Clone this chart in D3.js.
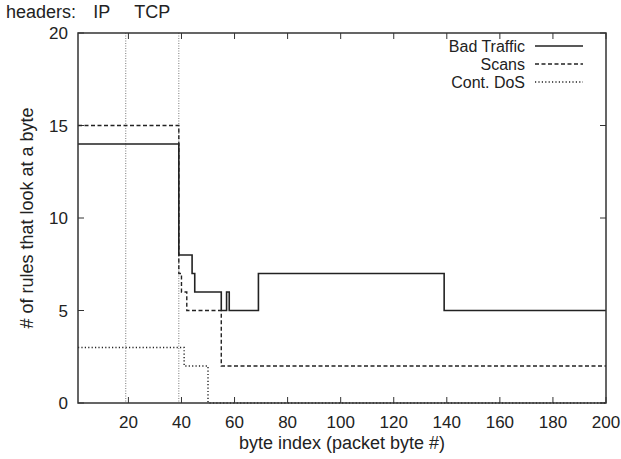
<html>
<head>
  <title></title>
  <script src="https://d3js.org/d3.v7.min.js"></script>
  <style type="text/css">
  body { margin: 0; background: #fff; }
  text {
    font-family: "Liberation Sans", Helvetica, Arial, sans-serif;
    fill: #222;
  }
  </style>
</head>
<body>
<div id="viz"></div>
<script type="text/javascript">

const W = 621, H = 459;
const margin = {left: 78, right: 15, top: 33, bottom: 56};

// step curves: value holds from each x until the next x
const badX   = [1, 39, 44, 45, 55, 57, 58, 69, 139, 200];
const badY   = [14, 8, 7, 6, 5, 6, 5, 7, 5, 5];
const scansX = [1, 39, 40, 42, 55, 200];
const scansY = [15, 7, 6, 5, 2, 2];
const dosX   = [1, 41, 50, 200];
const dosY   = [3, 2, 0, 0];

const seriesNames = ["Bad Traffic", "Scans", "Cont. DoS"];
const dashes = [null, "4,2.5", "1.2,2.2"];

const xTicks = [20, 40, 60, 80, 100, 120, 140, 160, 180, 200];
const yTicks = [0, 5, 10, 15, 20];

const headerNames = ["IP", "TCP"];
const headerEnds = [19, 39];

const svg = d3.select("#viz").append("svg")
  .attr("width", W)
  .attr("height", H);

const x = d3.scaleLinear().domain([1, 200]).range([margin.left, W - margin.right]);
const y = d3.scaleLinear().domain([0, 20]).range([H - margin.bottom, margin.top]);

const x0 = x.range()[0], x1 = x.range()[1];
const y0 = y.range()[0], y1 = y.range()[1];

// header separators
svg.selectAll(".hdr")
  .data(headerEnds)
  .enter().append("line")
  .attr("x1", d => x(d)).attr("x2", d => x(d))
  .attr("y1", y1).attr("y2", y0)
  .style("stroke", "#777")
  .style("stroke-width", 1)
  .style("stroke-dasharray", "1,1.5");

svg.append("text")
  .attr("x", 6).attr("y", 18)
  .style("font-size", "18px")
  .text("headers:");

svg.selectAll(".hdrlabel")
  .data(headerNames)
  .enter().append("text")
  .attr("x", (d, i) => (x(i === 0 ? 1 : headerEnds[i - 1]) + x(headerEnds[i])) / 2)
  .attr("y", 18)
  .attr("text-anchor", "middle")
  .style("font-size", "18px")
  .text(d => d);

// ticks, mirrored like gnuplot
const tk = 6;
const tickG = svg.append("g").style("stroke", "#333").style("stroke-width", 1);
xTicks.forEach(t => {
  tickG.append("line").attr("x1", x(t)).attr("x2", x(t)).attr("y1", y0).attr("y2", y0 - tk);
  tickG.append("line").attr("x1", x(t)).attr("x2", x(t)).attr("y1", y1).attr("y2", y1 + tk);
});
yTicks.forEach(t => {
  tickG.append("line").attr("x1", x0).attr("x2", x0 + tk).attr("y1", y(t)).attr("y2", y(t));
  tickG.append("line").attr("x1", x1).attr("x2", x1 - tk).attr("y1", y(t)).attr("y2", y(t));
});

svg.selectAll(".xlab")
  .data(xTicks)
  .enter().append("text")
  .attr("x", d => x(d))
  .attr("y", y0 + 25)
  .attr("text-anchor", "middle")
  .style("font-size", "17px")
  .text(d => d);

svg.selectAll(".ylab")
  .data(yTicks)
  .enter().append("text")
  .attr("x", x0 - 10)
  .attr("y", d => y(d) + 6)
  .attr("text-anchor", "end")
  .style("font-size", "17px")
  .text(d => d);

svg.append("text")
  .attr("x", (x0 + x1) / 2)
  .attr("y", H - 10)
  .attr("text-anchor", "middle")
  .style("font-size", "18px")
  .text("byte index (packet byte #)");

svg.append("text")
  .attr("transform", `translate(33,${(y0 + y1) / 2}) rotate(-90)`)
  .attr("text-anchor", "middle")
  .style("font-size", "18px")
  .text("# of rules that look at a byte");

// series
const line = d3.line()
  .x(d => x(d[0]))
  .y(d => y(d[1]))
  .curve(d3.curveStepAfter);

const series = [d3.zip(badX, badY), d3.zip(scansX, scansY), d3.zip(dosX, dosY)];

series.forEach((s, i) => {
  svg.append("path")
    .datum(s)
    .attr("d", line)
    .attr("fill", "none")
    .style("stroke", "#222")
    .style("stroke-width", i === 0 ? 1.6 : 1.4)
    .style("stroke-dasharray", dashes[i]);
});

// frame
svg.append("rect")
  .attr("x", x0).attr("y", y1)
  .attr("width", x1 - x0).attr("height", y0 - y1)
  .attr("fill", "none")
  .style("stroke", "#333")
  .style("stroke-width", 1.5);

// legend
const leg = svg.append("g");
seriesNames.forEach((n, i) => {
  const ly = 46 + i * 18;
  leg.append("text")
    .attr("x", 525).attr("y", ly + 6)
    .attr("text-anchor", "end")
    .style("font-size", "16px")
    .text(n);
  leg.append("line")
    .attr("x1", 535).attr("x2", 583)
    .attr("y1", ly).attr("y2", ly)
    .style("stroke", "#222")
    .style("stroke-width", i === 0 ? 1.6 : 1.4)
    .style("stroke-dasharray", dashes[i]);
});

</script>
</body>
</html>
